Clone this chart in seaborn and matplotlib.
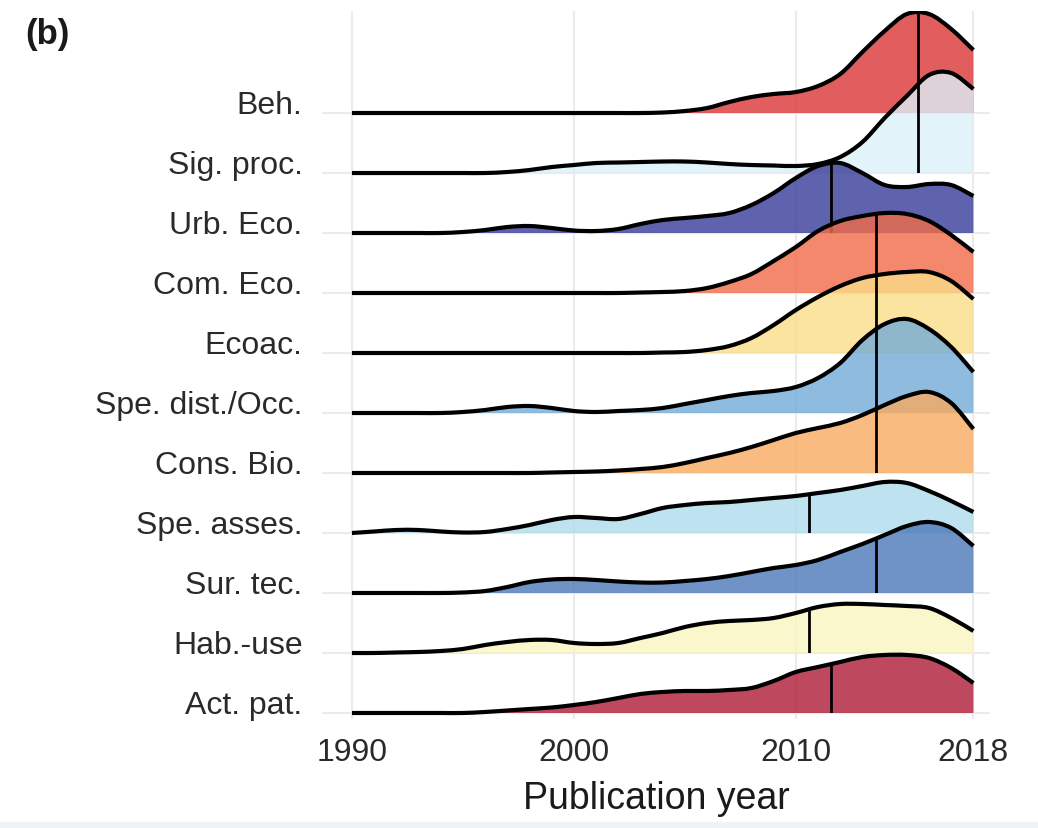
import numpy as np
import matplotlib
matplotlib.use("Agg")
import matplotlib.pyplot as plt
from matplotlib.path import Path
from matplotlib.patches import PathPatch, Rectangle
import seaborn as sns

# ---------------- data ----------------
years = [1990, 1991, 1992, 1993, 1994, 1995, 1996, 1997, 1998, 1999,
         2000, 2001, 2002, 2003, 2004, 2005, 2006, 2007, 2008, 2009,
         2010, 2011, 2012, 2013, 2014, 2015, 2016, 2017, 2018]

# bottom -> top
categories = ["Act. pat.", "Hab.-use", "Sur. tec.", "Spe. asses.", "Cons. Bio.",
              "Spe. dist./Occ.", "Ecoac.", "Com. Eco.", "Urb. Eco.", "Sig. proc.", "Beh."]

# relative density (ridge height) per year
act_pat = [0, 0, 0, 0, 0, 0, 1, 2.5, 4, 5.5, 8, 11, 15, 19, 21, 22, 22, 23, 25, 32,
           41, 46, 51, 56, 58, 58, 55, 45, 30]
hab_use = [0, 0, 0.5, 1, 2, 4, 8, 11, 13, 13, 10, 9, 10, 15, 20, 26, 30, 32, 33, 35,
           40, 46, 49, 49, 48, 47, 45, 35, 22]
sur_tec = [0, 0, 0, 0, 0, 0.5, 2, 6, 11, 13.5, 14, 13, 11.5, 10.5, 10.5, 12, 14, 17, 21, 25,
           28, 33, 41, 49, 58, 67, 71, 65, 47]
spe_asses = [0, 1.5, 3, 3, 1.5, 0.5, 1, 4, 8, 13, 16, 15, 14, 19, 25, 28, 30, 31, 33, 35,
             37, 40, 43, 47, 51, 50, 42, 32, 21]
cons_bio = [0, 0, 0, 0, 0, 0, 0, 0, 0, 0.5, 1, 1.5, 2.5, 4, 6, 10, 15, 20, 26, 33,
            40, 45, 50, 58, 68, 77, 81, 70, 44]
spe_dist = [0, 0, 0, 0, 0, 1, 3, 6, 7, 5, 2, 1, 2, 3, 5, 9, 13, 17, 20, 22,
            26, 35, 50, 73, 89, 94, 84, 66, 41]
ecoac = [0, 0, 0, 0, 0, 0, 0, 0, 0, 0, 0, 0, 0, 0, 0.5, 1, 3, 7, 15, 28,
         43, 56, 67, 75, 79, 81, 81, 72, 54]
com_eco = [0, 0, 0, 0, 0, 0, 0, 0, 0, 0, 0, 0, 0, 0.5, 1, 2, 5, 11, 19, 32,
           46, 62, 72, 77, 80, 79, 72, 58, 41]
urb_eco = [0, 0, 0, 0, 0, 1, 3, 6, 7, 5, 2.5, 2, 4, 9, 13, 15, 17, 20, 28, 40,
           55, 67, 70, 60, 48, 46, 49, 48, 37]
sig_proc = [0, 0, 0, 0, 0, 0, 0, 1, 3, 6, 8, 10, 10.5, 11, 11.5, 11.5, 10.5, 9, 8, 7.5,
            7, 9, 16, 31, 55, 77, 98, 100, 84]
beh = [0, 0, 0, 0, 0, 0, 0, 0, 0, 0, 0, 0, 0, 0, 0.5, 2, 5, 11, 16, 19,
       21, 27, 39, 61, 82, 99, 99, 84, 63]

series = [act_pat, hab_use, sur_tec, spe_asses, cons_bio, spe_dist,
          ecoac, com_eco, urb_eco, sig_proc, beh]

# median publication year per category (vertical quantile lines)
medians = [2011.6, 2010.6, 2013.6, 2010.6, 2013.6, 2013.6, 2013.6, 2013.6, 2011.6, 2015.5, 2015.5]

colors = ["#AE1A36", "#F9F5C1", "#4B77BA", "#AEDBEC", "#F8AA5F", "#73ACD6",
          "#FBDD88", "#F16B47", "#373B97", "#DDF0F9", "#DB3636"]

x_ticks = [1990, 2000, 2010, 2018]

# ---------------- style ----------------
sns.set_theme(style="whitegrid")
plt.rcParams["font.family"] = ["Liberation Sans", "DejaVu Sans"]

fig = plt.figure(figsize=(10.38, 8.29), dpi=100)
ax = fig.add_axes([0.3102, 0.1315, 0.6436, 0.854])

scale = 1 / 60.0  # ridge height units -> row units


def ridge_paths(x, h, base):
    x = np.asarray(x, float)
    y = base + np.asarray(h, float) * scale
    pts = np.column_stack([x, y])
    ext = np.vstack([pts[0], pts, pts[-1]])
    verts = [tuple(pts[0])]
    codes = [Path.MOVETO]
    for i in range(len(pts) - 1):
        p0, p1, p2, p3 = ext[i], ext[i + 1], ext[i + 2], ext[i + 3]
        c1 = p1 + (p2 - p0) / 6.0
        c2 = p2 - (p3 - p1) / 6.0
        verts += [tuple(c1), tuple(c2), tuple(p2)]
        codes += [Path.CURVE4] * 3
    line = Path(verts, codes)
    fverts = verts + [(x[-1], base), (x[0], base), (x[0], base)]
    fcodes = codes + [Path.LINETO, Path.LINETO, Path.CLOSEPOLY]
    return line, Path(fverts, fcodes)


n = len(categories)
for i in range(n - 1, -1, -1):  # top row drawn first, lower rows on top
    z = 2 + (n - i) * 3
    line_path, fill_path = ridge_paths(years, series[i], i)
    fill = PathPatch(fill_path, facecolor=colors[i], edgecolor="none", alpha=0.8, zorder=z)
    ax.add_patch(fill)
    vl = ax.vlines(medians[i], i, i + 3, colors="black", linewidth=2.0, zorder=z + 1)
    vl.set_clip_path(fill)
    ax.add_patch(PathPatch(line_path, facecolor="none", edgecolor="black",
                           linewidth=3.0, zorder=z + 2, capstyle="butt"))

ax.set_xlim(1988.65, 2018.75)
ax.set_ylim(-0.1, 11.7)
ax.set_xticks(x_ticks)
ax.set_xticklabels([str(t) for t in x_ticks])
ax.set_yticks(list(range(n)))
ax.set_yticklabels(categories, va="baseline")
ax.grid(True, color="#EBEBEB", linewidth=1.5)
ax.set_axisbelow(True)
for s in ax.spines.values():
    s.set_visible(False)
ax.tick_params(axis="both", length=0, labelsize=23, colors="#2A2A2A")
ax.tick_params(axis="y", pad=14)
ax.tick_params(axis="x", pad=13)
ax.set_xlabel("Publication year", fontsize=27, color="#1A1A1A", labelpad=9)
ax.set_ylabel("")
ax.set_facecolor("white")

fig.text(0.024, 0.978, "(b)", fontsize=25, fontweight="bold", va="top", ha="left", color="#1A1A1A")
fig.patches.append(Rectangle((0, 0), 1, 6 / 829, transform=fig.transFigure,
                             facecolor="#EEF3F8", edgecolor="none", zorder=0))

fig.savefig("out.png", dpi=100)
